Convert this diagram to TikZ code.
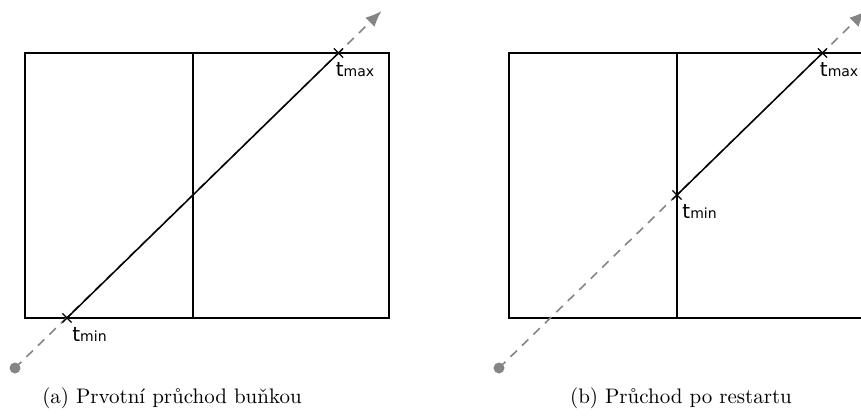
\documentclass[tikz,border=0pt]{standalone}
\usepackage{fontspec}
\newfontfamily\labelfont{DejaVu Sans}
\usetikzlibrary{arrows.meta, shapes.misc, positioning}
\definecolor{raygray}{HTML}{858585}
\tikzset{
	cellbox/.style={draw=black, line width=1pt},
	raypath/.style={draw=raygray, line width=0.8pt, dash pattern=on 4.5pt off 3.5pt, -{Latex[length=8pt, width=6.5pt]}},
	hitseg/.style={draw=black, line width=0.75pt},
	hitmark/.style={draw=black, cross out, line width=0.6pt, minimum size=4pt, inner sep=0pt},
	hitlabel/.style={font=\labelfont, inner sep=0pt},
	raystart/.style={circle, fill=raygray, minimum size=5.5pt, inner sep=0pt},
	subcaption/.style={anchor=base, inner sep=0pt, font=\fontsize{10.5pt}{12pt}\selectfont}
}
\newcommand{\tlabel}[1]{t{\fontsize{7pt}{8pt}\selectfont #1}}

\begin{document}
\begin{tikzpicture}[x=0.5pt, y=-0.5pt]
	\clip (0,0) rectangle (861,416);
	% (a) first pass
	\coordinate (a-nw) at (25,53);
	\coordinate (a-se) at (389,318);
	\coordinate (a-top) at (193,53);
	\coordinate (a-bot) at (193,318);
	\coordinate (a-start) at (15,368);
	\coordinate (a-min) at (67,318);
	\coordinate (a-max) at (338.5,53);
	\coordinate (a-end) at (381.5,11);
	\draw[cellbox] (a-nw) rectangle (a-se);
	\draw[cellbox] (a-top) -- (a-bot);
	\draw[raypath] (a-start) -- (a-end);
	\draw[hitseg] (a-min) -- (a-max);
	\node[raystart] (a-origin) at (a-start) {};
	\node[hitmark] (a-minmark) at (a-min) {};
	\node[hitmark] (a-maxmark) at (a-max) {};
	\node[hitlabel, below right=4.5pt and 2.5pt of a-min] (a-minlabel) {\tlabel{min}};
	\node[hitlabel, below right=4.5pt and -1.5pt of a-max] (a-maxlabel) {\tlabel{max}};
	\node[subcaption] (a-caption) at (172,403) {(a) Prvotní průchod buňkou};
	% (b) after restart
	\coordinate (b-nw) at (509,53);
	\coordinate (b-se) at (873,318);
	\coordinate (b-top) at (677,53);
	\coordinate (b-bot) at (677,318);
	\coordinate (b-start) at (499,368);
	\coordinate (b-min) at (677,195);
	\coordinate (b-max) at (822.5,53);
	\coordinate (b-end) at (865.5,11);
	\draw[cellbox] (b-nw) rectangle (b-se);
	\draw[cellbox] (b-top) -- (b-bot);
	\draw[raypath] (b-start) -- (b-end);
	\draw[hitseg] (b-min) -- (b-max);
	\node[raystart] (b-origin) at (b-start) {};
	\node[hitmark] (b-minmark) at (b-min) {};
	\node[hitmark] (b-maxmark) at (b-max) {};
	\node[hitlabel, below right=4.5pt and 2.5pt of b-min] (b-minlabel) {\tlabel{min}};
	\node[hitlabel, below right=4.5pt and -1.5pt of b-max] (b-maxlabel) {\tlabel{max}};
	\node[subcaption] (b-caption) at (681,403) {(b) Průchod po restartu};
\end{tikzpicture}
\end{document}
